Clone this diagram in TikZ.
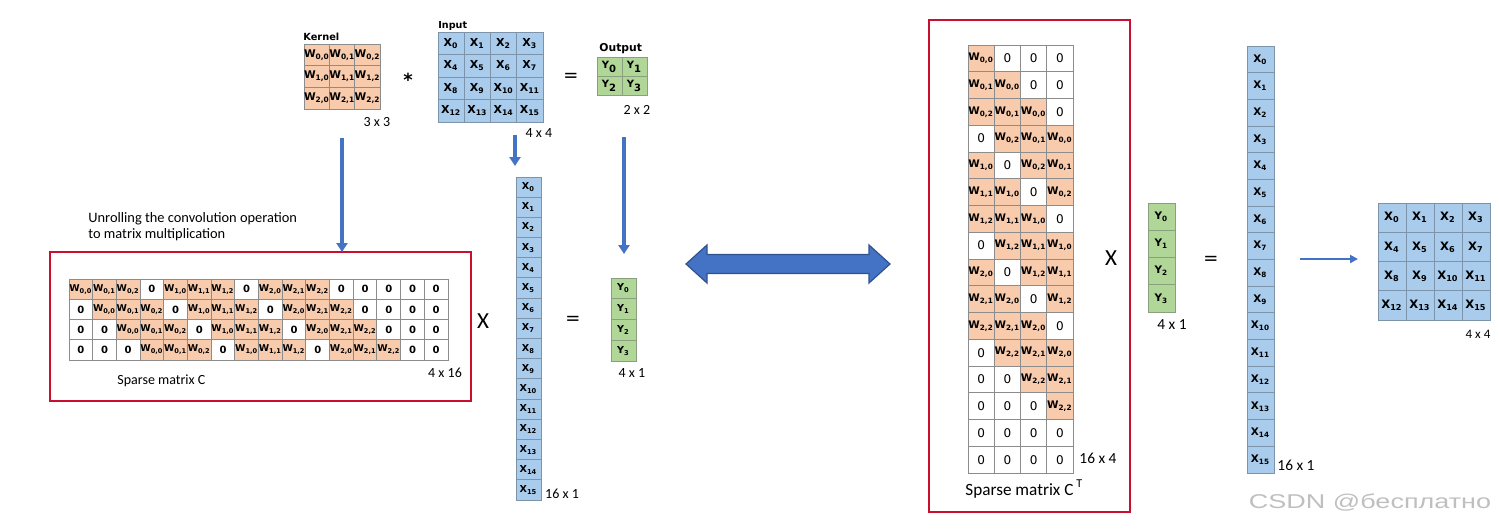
\documentclass[tikz,border=0pt]{standalone}
\usepackage{fontspec}
\usepackage{graphicx}
\setmainfont{Carlito}
\newfontfamily\dv{DejaVu Sans}
\newfontfamily\lib{Liberation Sans}
\usetikzlibrary{arrows.meta,calc}
\definecolor{korange}{HTML}{F8CBAD}
\definecolor{xblue}{HTML}{A9CBEC}
\definecolor{ygreen}{HTML}{B0D698}
\definecolor{gridgray}{HTML}{8C8C8C}
\definecolor{bluegrid}{HTML}{7D93AA}
\definecolor{greengrid}{HTML}{8A9E80}
\definecolor{arrowblue}{HTML}{4472C4}
\definecolor{arrowedge}{HTML}{2F528F}
\definecolor{boxred}{HTML}{C8102E}
\newif\ifnz
\newcommand\setnz[1]{%
  \pgfmathtruncatemacro\ka{floor((#1)/4)}%
  \pgfmathtruncatemacro\kb{(#1)-4*\ka}%
  \nzfalse
  \ifnum#1>-1\relax\ifnum#1<11\relax\ifnum\kb<3\relax\nztrue\fi\fi\fi}
\tikzset{
  cbox/.style 2 args={draw, line width=0.5pt, inner sep=0pt, outer sep=0pt,
    minimum width=#1*0.5pt, minimum height=#2*0.5pt, anchor=north west},
  cf/.style={font=\fontsize{#1}{#1}\selectfont\dv\bfseries},
  cfr/.style={font=\fontsize{#1}{#1}\selectfont\dv},
  dimlbl/.style={font=\fontsize{#1}{#1}\selectfont, inner sep=0pt},
  hdr/.style={font=\fontsize{#1}{#1}\selectfont\dv\bfseries, inner sep=0pt, anchor=base west},
  arr/.style={draw=arrowblue, line width=1.6pt, -{Triangle[length=4.5pt,width=5.5pt]}},
  thinarr/.style={draw=arrowblue, line width=1pt, -{Triangle[length=4pt,width=4pt]}},
  redbox/.style 2 args={draw=boxred, line width=1pt, inner sep=0pt, outer sep=0pt,
    minimum width=#1*0.5pt, minimum height=#2*0.5pt, anchor=north west},
  sym/.style={font=\fontsize{#1}{#1}\selectfont\dv, inner sep=0pt},
}
\begin{document}
\begin{tikzpicture}[x=0.5pt,y=-0.5pt]
\useasboundingbox (0,0) rectangle (1499,531);

% ---------- Kernel 3x3
\foreach \r in {0,1,2}{\foreach \c in {0,1,2}{
  \node[cbox={25.33}{21.67}, fill=korange, draw=gridgray, cf=5.3] (k-\r-\c)
    at ({304+\c*25.33},{44+\r*21.67}) {W\textsubscript{\r,\c}};
}}
\node[hdr=4.9] (klbl) at (303,40) {Kernel};
\node[dimlbl=7] (kdim) at (377,122) {3 x 3};
\node[sym=8, font=\fontsize{9}{9}\selectfont\dv\bfseries] (star) at (408,80) {*};

% ---------- Input 4x4
\foreach \r in {0,...,3}{\foreach \c in {0,...,3}{
  \pgfmathtruncatemacro\n{4*\r+\c}
  \node[cbox={26.25}{22.5}, fill=xblue, draw=bluegrid, cf=5.5] (in-\r-\c)
    at ({438+\c*26.25},{32+\r*22.5}) {X\textsubscript{\n}};
}}
\node[hdr=4.8] (ilbl) at (438,28) {Input};
\node[dimlbl=7] (idim) at (539,133) {4 x 4};
\node[sym=9] (eqtop) at (571,77) {=};

% ---------- Output 2x2
\foreach \r in {0,1}{\foreach \c in {0,1}{
  \pgfmathtruncatemacro\n{2*\r+\c}
  \node[cbox={25}{19}, fill=ygreen, draw=greengrid, cf=5] (out-\r-\c)
    at ({597+\c*25},{57+\r*19}) {Y\textsubscript{\n}};
}}
\node[hdr=5.4] (olbl) at (599,51) {Output};
\node[dimlbl=7] (odim) at (637,110) {2 x 2};

% ---------- down arrows
\coordinate (ka) at (342,138);
\coordinate (ia1) at (515,135);
\coordinate (ia2) at (515,166);
\coordinate (oa1) at (624,137);
\coordinate (oa2) at (624,254);

% ---------- Sparse matrix C (4x16)
\node[redbox={421}{149}] (Cbox) at (50,252) {};
\foreach \r in {0,...,3}{\foreach \c in {0,...,15}{
  \pgfmathtruncatemacro\k{\c-\r}
  \setnz{\k}
  \ifnz
    \node[cbox={23.69}{20.25}, fill=korange, draw=gridgray, cf=4.7] (C-\r-\c)
      at ({69+\c*23.69},{279+\r*20.25}) {W\textsubscript{\ka,\kb}};
  \else
    \node[cbox={23.69}{20.25}, fill=white, draw=gridgray, cf=5] (C-\r-\c)
      at ({69+\c*23.69},{279+\r*20.25}) {0};
  \fi
}}
\node[dimlbl=7, anchor=west] (Clbl) at (117,381) {Sparse matrix C};
\node[dimlbl=7] (Cdim) at (445,373) {4 x 16};
\node[anchor=west, align=left, inner sep=0pt, font=\fontsize{7.2}{8}\selectfont] (unroll)
  at (88,227) {Unrolling the convolution operation\\to matrix multiplication};

\draw[arr] (ka) -- (ka |- Cbox.north);
\draw[arr] (ia1) -- (ia2);
\draw[arr] (oa1) -- (oa2);

\node[dimlbl=11.5] (xmid) at (483,321) {X};

% ---------- middle X column 16x1
\foreach \r in {0,...,15}{
  \node[cbox={25}{20.19}, fill=xblue, draw=bluegrid, cf=4.8] (xm-\r)
    at (516,{177+\r*20.19}) {X\textsubscript{\r}};
}
\node[dimlbl=7] (xmdim) at (562,494) {16 x 1};
\node[sym=9] (eqmid) at (573,320) {=};

% ---------- middle Y column 4x1
\foreach \r in {0,...,3}{
  \node[cbox={25}{20.75}, fill=ygreen, draw=greengrid, cf=4.8] (ym-\r)
    at (611,{278+\r*20.75}) {Y\textsubscript{\r}};
}
\node[dimlbl=7] (ymdim) at (632,373) {4 x 1};

% ---------- double arrow
\draw[fill=arrowblue, draw=arrowedge, line width=0.6pt, line join=miter]
  (686,264) -- (707,245) -- (707,254.5) -- (869,254.5) -- (869,245) -- (890,264)
  -- (869,283) -- (869,273.5) -- (707,273.5) -- (707,283) -- cycle;

% ---------- Sparse matrix C^T (16x4)
\node[redbox={201}{492}] (CTbox) at (929,20) {};
\foreach \r in {0,...,15}{\foreach \c in {0,...,3}{
  \pgfmathtruncatemacro\k{\r-\c}
  \setnz{\k}
  \ifnz
    \node[cbox={26.25}{26.75}, fill=korange, draw=gridgray, cf=5.2] (CT-\r-\c)
      at ({968+\c*26.25},{45+\r*26.75}) {W\textsubscript{\ka,\kb}};
  \else
    \node[cbox={26.25}{26.75}, fill=white, draw=gridgray, cfr=6] (CT-\r-\c)
      at ({968+\c*26.25},{45+\r*26.75}) {0};
  \fi
}}
\node[dimlbl=7.7] (CTdim) at (1098,458) {16 x 4};
\node[dimlbl=8.6, anchor=west] (CTlbl) at (965,489) {Sparse matrix C\,\textsuperscript{T}};
\node[dimlbl=11.5] (xright) at (1111,258) {X};

% ---------- right Y column
\foreach \r in {0,...,3}{
  \node[cbox={27}{27.25}, fill=ygreen, draw=greengrid, cf=5.2] (yr-\r)
    at (1148,{203+\r*27.25}) {Y\textsubscript{\r}};
}
\node[dimlbl=7.7] (yrdim) at (1172,325) {4 x 1};
\node[sym=9] (eqright) at (1211,260) {=};

% ---------- right X column
\foreach \r in {0,...,15}{
  \node[cbox={27}{26.69}, fill=xblue, draw=bluegrid, cf=5.2] (xr-\r)
    at (1247,{46+\r*26.69}) {X\textsubscript{\r}};
}
\node[dimlbl=7.7] (xrdim) at (1296,465) {16 x 1};

% ---------- right arrow and 4x4
\coordinate (ra1) at (1300,259);
\coordinate (ra2) at (1358,259);
\draw[thinarr] (ra1) -- (ra2);
\foreach \r in {0,...,3}{\foreach \c in {0,...,3}{
  \pgfmathtruncatemacro\n{4*\r+\c}
  \node[cbox={28}{29.25}, fill=xblue, draw=bluegrid, cf=5.8] (o-\r-\c)
    at ({1378+\c*28},{203+\r*29.25}) {X\textsubscript{\n}};
}}
\node[dimlbl=6.5] (o4dim) at (1478,334) {4 x 4};

% ---------- watermark
\node[inner sep=0pt, text=black!25, font=\fontsize{10}{10}\selectfont\lib] (wm)
  at (1370,503) {\scalebox{1.35}[1]{CSDN @бесплатно}};
\end{tikzpicture}
\end{document}
